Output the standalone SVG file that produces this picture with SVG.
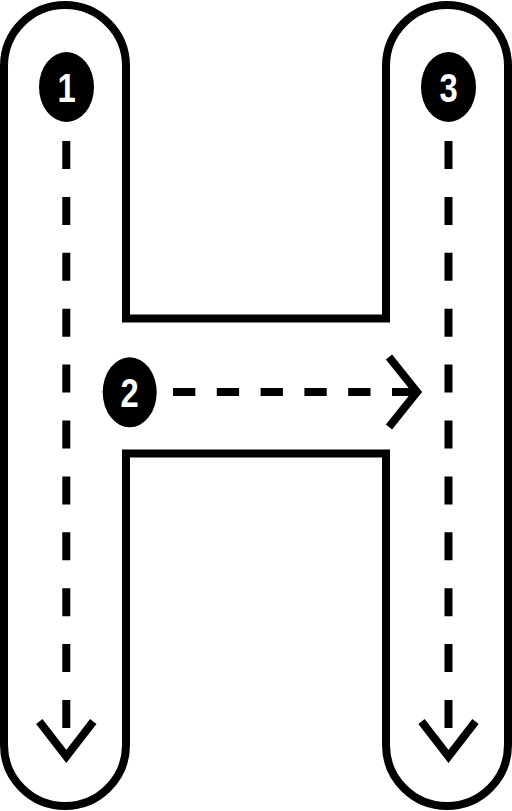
<svg xmlns="http://www.w3.org/2000/svg" width="512" height="811" viewBox="0 0 512 811">
  <style>
    .outline { fill: #fff; stroke: #000; stroke-width: 8; stroke-linejoin: miter; }
    .badge ellipse { fill: #000; }
    .badge text { fill: #fff; font-family: "Liberation Sans", Arial, sans-serif; font-weight: bold; font-size: 40px; text-anchor: middle; }
    .flow { fill: none; stroke: #000; stroke-width: 8; }
    .v { stroke-dasharray: 28 27.9; }
    .h { stroke-dasharray: 22.3 21.5; }
    .chev { fill: none; stroke: #000; stroke-width: 8; stroke-linejoin: miter; }
  </style>
  <defs>
    <marker id="chev-h" viewBox="-45 -45 55 90" markerUnits="userSpaceOnUse" markerWidth="55" markerHeight="90" refX="0" refY="0" orient="auto" overflow="visible">
      <path class="chev" d="M-28,-35 L0,0 L-28,35"/>
    </marker>
    <marker id="chev-v" viewBox="-45 -45 55 90" markerUnits="userSpaceOnUse" markerWidth="55" markerHeight="90" refX="0" refY="0" orient="auto" overflow="visible">
      <path class="chev" d="M-35,-27 L0,0 L-35,27"/>
    </marker>
  </defs>
  <rect width="512" height="811" fill="#fff"/>
  <g id="letter-H">
    <path class="outline" d="M126,318.5 L126,66 A61,61 0 0 0 4,66 L4,745 A61,61 0 0 0 126,745 L126,453.5 L386,453.5 L386,745 A61,61 0 0 0 508,745 L508,66 A61,61 0 0 0 386,66 L386,318.5 Z"/>
  </g>
  <g id="connectors">
    <line class="flow v" x1="66.3" y1="141" x2="66.3" y2="756.5" marker-end="url(#chev-v)"/>
    <line class="flow h" x1="173" y1="392" x2="417" y2="392" marker-end="url(#chev-h)"/>
    <line class="flow v" x1="448.5" y1="141" x2="448.5" y2="756.5" marker-end="url(#chev-v)"/>
  </g>
  <g id="step-1" class="badge">
    <ellipse cx="66.5" cy="87" rx="27.5" ry="35"/>
    <text transform="translate(66.5,102) scale(0.82,1)" x="0" y="0">1</text>
  </g>
  <g id="step-2" class="badge">
    <ellipse cx="129.7" cy="392.3" rx="27" ry="35"/>
    <text transform="translate(129.7,407) scale(0.82,1)" x="0" y="0">2</text>
  </g>
  <g id="step-3" class="badge">
    <ellipse cx="448.5" cy="87" rx="27.5" ry="35"/>
    <text transform="translate(448.5,102) scale(0.82,1)" x="0" y="0">3</text>
  </g>
</svg>
